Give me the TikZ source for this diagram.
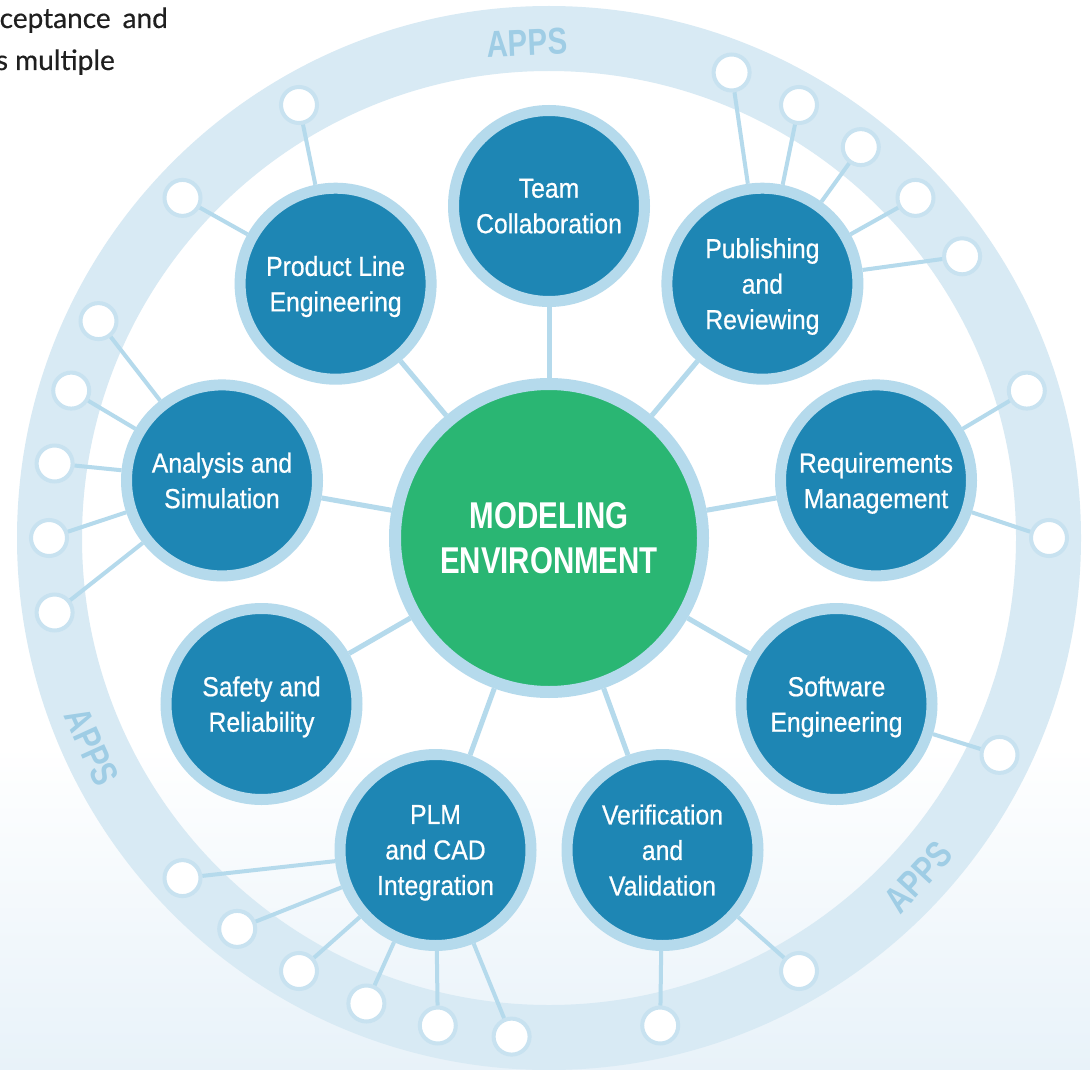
\documentclass[tikz,border=0pt]{standalone}
\usepackage{fontspec}
\usepackage{tikz}
\setmainfont{Liberation Sans}
\newfontfamily\areafont[FakeStretch=0.9,FakeBold=0.6]{Liberation Sans}
\newfontfamily\hubfont[FakeStretch=0.79]{Liberation Sans Bold}
\newfontfamily\notefont[FakeBold=0.5]{Lato}
\definecolor{areablue}{HTML}{1E86B4}
\definecolor{rim}{HTML}{B5DAEC}
\definecolor{hubgreen}{HTML}{2AB673}
\definecolor{ringblue}{HTML}{D8EAF4}
\definecolor{apprim}{HTML}{C8E2F0}
\definecolor{appstext}{HTML}{9FCDE5}
\definecolor{fadeblue}{HTML}{E8F2F9}

\begin{document}
\begin{tikzpicture}[x=1pt,y=1pt]
\tikzstyle{every node}+=[inner sep=0pt]
\tikzstyle{hub}=[circle, fill=hubgreen, draw=rim, line width=12pt, minimum size=308pt, text=white, align=center, font=\hubfont\fontsize{37.3}{44.5}\selectfont]
\tikzstyle{area}=[circle, fill=areablue, draw=rim, line width=11pt, minimum size=191pt, text=white, align=center, text depth=0pt, font=\areafont\fontsize{27.5}{35.5}\selectfont]
\tikzstyle{app}=[circle, fill=white, draw=apprim, line width=4pt, minimum size=36pt]
\tikzstyle{apps}=[text=appstext, font=\hubfont\fontsize{37.3}{40}\selectfont]
\tikzstyle{note}=[text=black!88, font=\notefont\fontsize{28}{42}\selectfont]
\tikzstyle{spoke}=[draw=rim, line width=5pt]
\tikzstyle{twig}=[draw=rim, line width=4pt]
\useasboundingbox (0,0) rectangle (1090,-1070);
\fill [white] (0,0) rectangle (1090,-1070);
\shade [top color=white, bottom color=fadeblue] (0,-745) rectangle (1090,-1070);
\draw [ringblue, line width=65pt] (549,-538) circle [radius=499.5];
\node [apps, rotate=2.5] (appstop) at (527,-43) {APPS};
\node [apps, rotate=-65.5] (appsleft) at (92,-747) {APPS};
\node [apps, rotate=47.4] (appsright) at (918,-877) {APPS};
\node [note, anchor=base east] (note1) at (168,-28) {ceptance\hspace{12pt}and};
\node [note, anchor=base east] (note2) at (115,-70) {s multiple};
% hub and the nine areas
\node [hub] (hub) at (549,-538) {MODELING\\ENVIRONMENT};
\node [area] (team) at (549,-206) {Team\\Collaboration};
\node [area] (prodline) at (335.6,-283.7) {Product Line\\Engineering};
\node [area] (publish) at (762.4,-283.7) {Publishing\\and\\Reviewing};
\node [area] (analysis) at (222,-480.4) {Analysis and\\Simulation};
\node [area] (reqs) at (876,-480.4) {Requirements\\Management};
\node [area] (safety) at (261.5,-704) {Safety and\\Reliability};
\node [area] (software) at (836.5,-704) {Software\\Engineering};
\node [area] (plm) at (435.5,-850) {PLM\\and CAD\\Integration};
\node [area] (verval) at (662.5,-850) {Verification\\and\\Validation};
% apps on the ring
\node [app] (rq2) at (1049,-538) {};
\node [app] (rq1) at (1026.8,-390.6) {};
\node [app] (pu5) at (962.1,-256.3) {};
\node [app] (pu4) at (915.5,-197.9) {};
\node [app] (pu3) at (860.8,-147.1) {};
\node [app] (pu2) at (799,-105) {};
\node [app] (pu1) at (731.6,-72.5) {};
\node [app] (pl1) at (299,-105) {};
\node [app] (pl2) at (182.5,-197.9) {};
\node [app] (an1) at (98.5,-321.1) {};
\node [app] (an2) at (71.2,-390.6) {};
\node [app] (an3) at (54.6,-463.5) {};
\node [app] (an4) at (49,-538) {};
\node [app] (an5) at (54.6,-612.5) {};
\node [app] (cad1) at (182.5,-878.1) {};
\node [app] (cad2) at (237.2,-928.9) {};
\node [app] (cad3) at (299,-971) {};
\node [app] (cad4) at (366.4,-1003.5) {};
\node [app] (cad5) at (437.8,-1025.5) {};
\node [app] (cad6) at (511.6,-1036.6) {};
\node [app] (vv2) at (660.2,-1025.5) {};
\node [app] (vv1) at (799,-971) {};
\node [app] (sw1) at (999.5,-754.9) {};
% spokes from the hub
\draw [spoke] (hub) -- (team);
\draw [spoke] (hub) -- (prodline);
\draw [spoke] (hub) -- (publish);
\draw [spoke] (hub) -- (analysis);
\draw [spoke] (hub) -- (reqs);
\draw [spoke] (hub) -- (safety);
\draw [spoke] (hub) -- (software);
\draw [spoke] (hub) -- (plm);
\draw [spoke] (hub) -- (verval);
% twigs out to the apps
\draw [twig] (rq1) -- (reqs);
\draw [twig] (rq2) -- (reqs);
\draw [twig] (pu1) -- (publish);
\draw [twig] (pu2) -- (publish);
\draw [twig] (pu3) -- (publish);
\draw [twig] (pu4) -- (publish);
\draw [twig] (pu5) -- (publish);
\draw [twig] (pl1) -- (prodline);
\draw [twig] (pl2) -- (prodline);
\draw [twig] (an1) -- (analysis);
\draw [twig] (an2) -- (analysis);
\draw [twig] (an3) -- (analysis);
\draw [twig] (an4) -- (analysis);
\draw [twig] (an5) -- (analysis);
\draw [twig] (cad1) -- (plm);
\draw [twig] (cad2) -- (plm);
\draw [twig] (cad3) -- (plm);
\draw [twig] (cad4) -- (plm);
\draw [twig] (cad5) -- (plm);
\draw [twig] (cad6) -- (plm);
\draw [twig] (vv1) -- (verval);
\draw [twig] (vv2) -- (verval);
\draw [twig] (sw1) -- (software);
\end{tikzpicture}
\end{document}
